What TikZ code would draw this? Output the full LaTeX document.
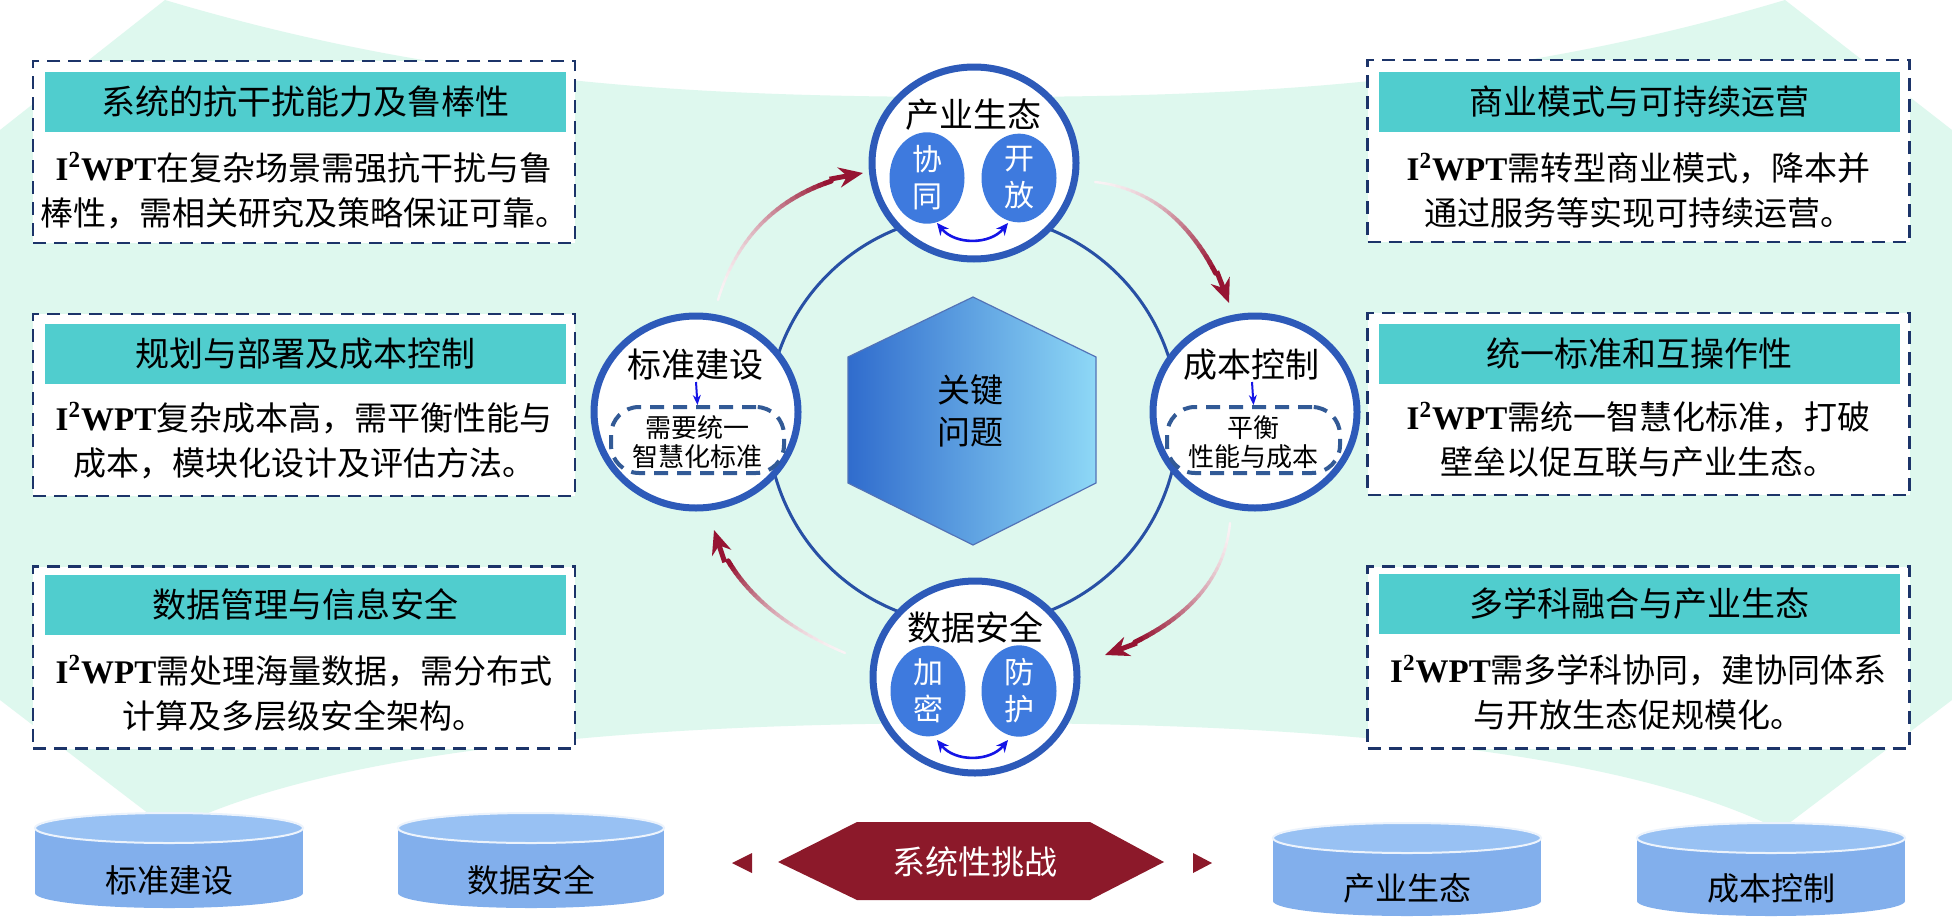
\documentclass[tikz,border=0pt]{standalone}
\usepackage{fontspec}
\setmainfont{Noto Sans CJK SC}
\newfontfamily\tnr{Liberation Serif}
\usetikzlibrary{arrows.meta,shapes.geometric}
\definecolor{mint}{RGB}{222,248,238}
\definecolor{navy}{RGB}{28,52,105}
\definecolor{teal1}{RGB}{80,205,206}
\definecolor{ringblue}{RGB}{40,80,165}
\definecolor{nodeblue}{RGB}{45,90,185}
\definecolor{innerblue}{RGB}{62,122,222}
\definecolor{arrowred}{RGB}{150,20,50}
\definecolor{hexred}{RGB}{140,25,42}
\definecolor{cylblue}{RGB}{130,175,236}
\definecolor{cyltop}{RGB}{152,193,243}
\definecolor{dashblue}{RGB}{50,90,150}
\definecolor{arrblue}{RGB}{20,20,230}
\definecolor{hexL}{RGB}{48,108,205}
\definecolor{hexR}{RGB}{142,216,246}
\newcommand{\iwpt}{{\tnr\bfseries I\textsuperscript{2}WPT}}
\newcommand{\gradarrow}[6]{%
  \pgfmathsetmacro{\glen}{veclen(#5-#3,#6-#4)}%
  \pgfmathsetmacro{\gend}{1-17/\glen}%
  \pgfmathsetmacro{\qx}{#5-34*(#5-#3)/\glen}%
  \pgfmathsetmacro{\qy}{#6-34*(#6-#4)/\glen}%
  \foreach \i in {0,...,27}{%
    \pgfmathsetmacro{\ta}{\gend*\i/28}%
    \pgfmathsetmacro{\tb}{\gend*(\i+1)/28}%
    \pgfmathsetmacro{\xa}{(1-\ta)*(1-\ta)*#1+2*\ta*(1-\ta)*#3+\ta*\ta*#5}%
    \pgfmathsetmacro{\ya}{(1-\ta)*(1-\ta)*#2+2*\ta*(1-\ta)*#4+\ta*\ta*#6}%
    \pgfmathsetmacro{\xb}{(1-\tb)*(1-\tb)*#1+2*\tb*(1-\tb)*#3+\tb*\tb*#5}%
    \pgfmathsetmacro{\yb}{(1-\tb)*(1-\tb)*#2+2*\tb*(1-\tb)*#4+\tb*\tb*#6}%
    \pgfmathsetmacro{\pc}{5+95*(\i/27)^1.6}%
    \pgfmathsetmacro{\lw}{1.2+1.3*\i/27}%
    \draw[line width=\lw pt, line cap=round, color=arrowred!\pc!white] (\xa,\ya) -- (\xb,\yb);
  }%
  \draw[line width=2.5pt, arrowred, -{Stealth[length=12pt,width=10pt]}] (\qx,\qy) -- (#5,#6);
}
\newcommand{\cylinder}[6]{%
  \fill[cylblue] (#1-#4,#2) rectangle (#1+#4,#3);
  \fill[cylblue] (#1,#3) ellipse [x radius=#4, y radius=15];
  \fill[cyltop, draw=white!85!cylblue, line width=1pt] (#1,#2) ellipse [x radius=#4, y radius=15];
  \node[cyltext] (#5) at (#1,#3-13) {#6};
}
\begin{document}
\begin{tikzpicture}[x=0.5pt,y=-0.5pt,
 infobox/.style={draw=navy, line width=1.1pt, dash pattern=on 6.5pt off 4pt, fill=white, minimum width=271pt, minimum height=91pt, inner sep=0pt},
 titlebar/.style={fill=teal1, minimum width=260.5pt, minimum height=30pt, inner sep=0pt, font=\fontsize{17}{20}\selectfont},
 bodytext/.style={align=center, inner sep=0pt, font=\fontsize{16.5}{22.5}\selectfont},
 keynode/.style={ellipse, draw=nodeblue, line width=3.5pt, fill=white, inner sep=0pt, minimum width=102pt, minimum height=96pt},
 keytitle/.style={inner sep=0pt, font=\fontsize{17}{20}\selectfont},
 innerdot/.style={ellipse, fill=innerblue, text=white, minimum width=37.5pt, minimum height=36pt, inner sep=0pt, align=center, font=\fontsize{15}{18.5}\selectfont},
 dashrect/.style={draw=dashblue, line width=2pt, dash pattern=on 7pt off 4.5pt, rounded corners=14pt, minimum width=86.5pt, minimum height=33pt, inner sep=0pt},
 smalltext/.style={align=center, inner sep=0pt, font=\fontsize{13}{14.5}\selectfont},
 bluearrow/.style={draw=arrblue, line width=1.3pt, {Stealth[length=6pt,width=5.5pt]}-{Stealth[length=6pt,width=5.5pt]}},
 downarrow/.style={draw=arrblue, line width=1pt, -{Stealth[length=5pt,width=4pt]}},
 cyltext/.style={inner sep=0pt, font=\fontsize{16}{19}\selectfont},
]
\useasboundingbox (0,0) rectangle (1952,921);
\fill[white] (0,0) rectangle (1952,921);
% background band
\fill[mint] (0,130) -- (165,0) .. controls (450,85) and (700,97) .. (976,97)
  .. controls (1250,97) and (1500,85) .. (1785,0) -- (1952,130) -- (1952,700)
  -- (1780,830) .. controls (1600,740) and (1250,723) .. (976,723)
  .. controls (700,723) and (350,740) .. (170,830) -- (0,700) -- cycle;

% ring
\node[circle, draw=ringblue, line width=1.5pt, minimum size=205.5pt, inner sep=0pt] (ring) at (973,420) {};

% red gradient arrows
\gradarrow{718}{300}{750}{194}{863}{173}
\gradarrow{1095}{182}{1186}{192}{1229}{303}
\gradarrow{1230}{523}{1222}{611}{1105}{655}
\gradarrow{845}{653}{740}{608}{714}{530}

% central hexagon
\shade[left color=hexL, right color=hexR, draw=ringblue!80, line width=0.6pt]
  (973,297) -- (1096,357) -- (1096,483) -- (973,545) -- (848,483) -- (848,357) -- cycle;
\node[align=center, inner sep=0pt, font=\fontsize{16.5}{21}\selectfont] (key) at (970,411) {关键\\问题};

% key nodes
\node[keynode] (top) at (974,163) {};
\node[keynode] (left) at (696,412) {};
\node[keynode] (right) at (1255,412) {};
\node[keynode] (bottom) at (975,677) {};

% top node content
\node[keytitle] (toptitle) at (973,115) {产业生态};
\node[innerdot] (xt) at (927,178) {协\\同};
\node[innerdot] (kf) at (1019,178) {开\\放};
\coordinate (ta) at (937,223);
\coordinate (tb) at (1008,223);
\draw[bluearrow] (ta) .. controls (955,245) and (990,245) .. (tb);

% bottom node content
\node[keytitle] (bottitle) at (975,627) {数据安全};
\node[innerdot] (jm) at (928,691) {加\\密};
\node[innerdot] (fh) at (1019,691) {防\\护};
\coordinate (ba) at (937,740);
\coordinate (bb) at (1008,740);
\draw[bluearrow] (ba) .. controls (955,762) and (990,762) .. (bb);

% left node content
\node[keytitle] (lefttitle) at (695,365) {标准建设};
\node[dashrect] (leftbox) at (697.5,440) {};
\node[smalltext] (lefttext) at (697,442) {需要统一\\智慧化标准};
\coordinate (la) at (696,382);
\draw[downarrow] (la) -- (leftbox.north);

% right node content
\node[keytitle] (righttitle) at (1251,365) {成本控制};
\node[dashrect] (rightbox) at (1253.5,440) {};
\node[smalltext] (righttext) at (1253,442) {平衡\\性能与成本};
\coordinate (ra) at (1252,382);
\draw[downarrow] (ra) -- (rightbox.north);

% left info boxes
\node[infobox] (L1) at (304,152) {};
\node[titlebar] (L1t) at (305.5,102) {系统的抗干扰能力及鲁棒性};
\node[bodytext] (L1b) at (304,190.5) {\iwpt 在复杂场景需强抗干扰与鲁\\棒性，需相关研究及策略保证可靠。};

\node[infobox] (L2) at (304,405) {};
\node[titlebar] (L2t) at (305.5,354) {规划与部署及成本控制};
\node[bodytext] (L2b) at (304,440.5) {\iwpt 复杂成本高，需平衡性能与\\成本，模块化设计及评估方法。};

\node[infobox] (L3) at (304,657.5) {};
\node[titlebar] (L3t) at (305.5,604.5) {数据管理与信息安全};
\node[bodytext] (L3b) at (304,693.5) {\iwpt 需处理海量数据，需分布式\\计算及多层级安全架构。};

% right info boxes
\node[infobox] (R1) at (1638.5,151) {};
\node[titlebar] (R1t) at (1639.5,101.5) {商业模式与可持续运营};
\node[bodytext] (R1b) at (1638.5,190.5) {\iwpt 需转型商业模式，降本并\\通过服务等实现可持续运营。};

\node[infobox] (R2) at (1638.5,404) {};
\node[titlebar] (R2t) at (1639.5,353.5) {统一标准和互操作性};
\node[bodytext] (R2b) at (1638.5,440) {\iwpt 需统一智慧化标准，打破\\壁垒以促互联与产业生态。};

\node[infobox] (R3) at (1638.5,657.5) {};
\node[titlebar] (R3t) at (1639.5,604) {多学科融合与产业生态};
\node[bodytext] (R3b) at (1638.5,692.5) {\iwpt 需多学科协同，建协同体系\\与开放生态促规模化。};

% bottom row
\cylinder{169}{828}{893}{134}{c1}{标准建设}
\cylinder{531}{828}{893}{133}{c2}{数据安全}
\cylinder{1407}{838}{901}{134}{c3}{产业生态}
\cylinder{1771}{838}{901}{134}{c4}{成本控制}

\fill[hexred] (778,862) -- (857,822) -- (1090,822) -- (1164,862) -- (1090,900) -- (857,900) -- cycle;
\node[inner sep=0pt, text=white, font=\fontsize{16.5}{19}\selectfont] (challenge) at (975,862) {系统性挑战};
\fill[hexred] (732,863) -- (752,853) -- (752,873) -- cycle;
\fill[hexred] (1212,863) -- (1193,853) -- (1193,873) -- cycle;
\end{tikzpicture}
\end{document}
